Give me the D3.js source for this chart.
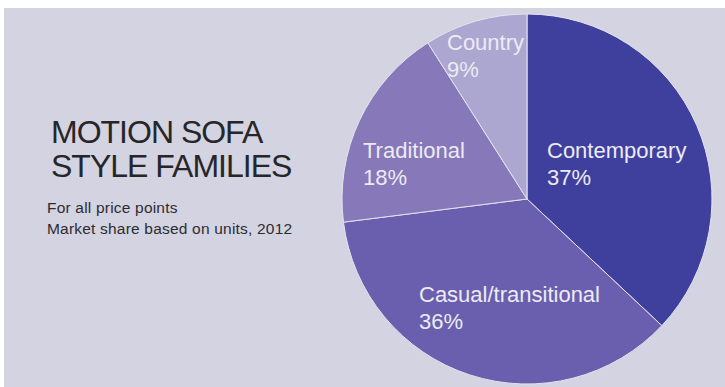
<!DOCTYPE html>
<meta charset="utf-8">
<style>
  body { margin: 0; background: #fff; }
  svg { display: block; }
  text { font-family: "Liberation Sans", Arial, sans-serif; }
  .title { font-size: 32px; fill: #262628; letter-spacing: -1px; }
  .sub { font-size: 15.5px; fill: #2c2c30; letter-spacing: 0.2px; }
  .lbl { font-size: 22px; fill: #ecebf4; }
</style>
<body>
<script src="https://d3js.org/d3.v7.min.js"></script>
<script>

// data
var styles = ["Contemporary", "Casual/transitional", "Traditional", "Country"];
var shares = [37, 36, 18, 9];
var colors = ["#3f409e", "#6a5fae", "#8778b9", "#aba7d0"];

var width = 725, height = 387;

var svg = d3.select("body").append("svg")
    .attr("width", width)
    .attr("height", height);

// scanned page background (white strip top/left)
svg.append("rect")
    .attr("x", 4).attr("y", 8)
    .attr("width", width - 4).attr("height", height - 8)
    .attr("fill", "#d4d3e2");

// pie
var cx = 527, cy = 199, radius = 185;

var pie = d3.pie().sort(null).value(function(d) { return d; });
var arc = d3.arc().innerRadius(0).outerRadius(radius);

var g = svg.append("g")
    .attr("transform", "translate(" + cx + "," + cy + ")");

g.selectAll("path")
    .data(pie(shares))
    .enter()
    .append("path")
    .attr("d", arc)
    .attr("fill", function(d, i) { return colors[i]; })
    .attr("stroke", "#e4e3ee")
    .attr("stroke-width", 1);

// label offsets from the pie centre, placed by hand like the print layout
var labelOffsets = [[20, -41], [-108, 103], [-164, -41], [-80, -149]];

var labels = g.selectAll("text.lbl")
    .data(styles)
    .enter()
    .append("text")
    .attr("class", "lbl")
    .attr("x", function(d, i) { return labelOffsets[i][0]; })
    .attr("y", function(d, i) { return labelOffsets[i][1]; });

labels.append("tspan").text(function(d) { return d; });
labels.append("tspan")
    .attr("x", function(d, i) { return labelOffsets[i][0]; })
    .attr("dy", 27)
    .text(function(d, i) { return shares[i] + "%"; });

// title block
svg.append("text").attr("class", "title")
    .attr("x", 51).attr("y", 143).text("MOTION SOFA");
svg.append("text").attr("class", "title")
    .attr("x", 51).attr("y", 177).text("STYLE FAMILIES");

svg.append("text").attr("class", "sub")
    .attr("x", 47).attr("y", 213).text("For all price points");
svg.append("text").attr("class", "sub")
    .attr("x", 47).attr("y", 234).text("Market share based on units, 2012");

</script>
</body>
